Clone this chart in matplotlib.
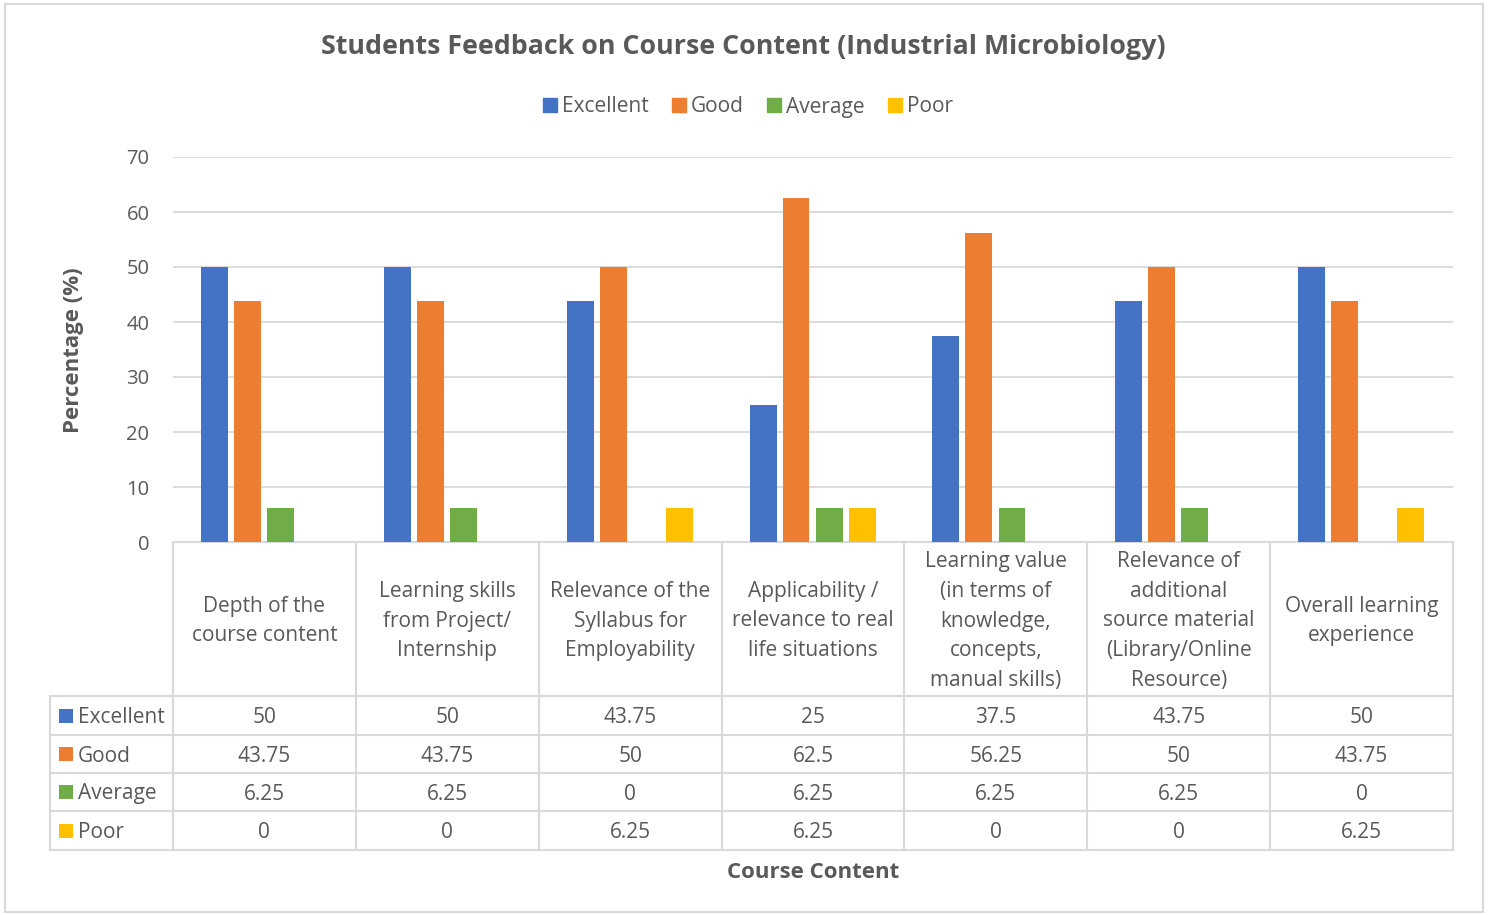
import matplotlib
matplotlib.use("Agg")
import matplotlib.pyplot as plt
from matplotlib.patches import Patch, Rectangle
import numpy as np

# ---------------- data ----------------
categories = [
    "Depth of the\ncourse content",
    "Learning skills\nfrom Project/\nInternship",
    "Relevance of the\nSyllabus for\nEmployability",
    "Applicability /\nrelevance to real\nlife situations",
    "Learning value\n(in terms of\nknowledge,\nconcepts,\nmanual skills)",
    "Relevance of\nadditional\nsource material\n(Library/Online\nResource)",
    "Overall learning\nexperience",
]
series_names = ["Excellent", "Good", "Average", "Poor"]
excellent = [50, 50, 43.75, 25, 37.5, 43.75, 50]
good = [43.75, 43.75, 50, 62.5, 56.25, 50, 43.75]
average = [6.25, 6.25, 0, 6.25, 6.25, 6.25, 0]
poor = [0, 0, 6.25, 6.25, 0, 0, 6.25]
yticks = [0, 10, 20, 30, 40, 50, 60, 70]
title = "Students Feedback on Course Content (Industrial Microbiology)"
ylabel = "Percentage (%)"
xlabel = "Course Content"

series = [excellent, good, average, poor]
colors = ["#4472C4", "#ED7D31", "#70AD47", "#FFC000"]
TXT = "#595959"
LINE = "#d9d9d9"
FONT = ["Open Sans", "DejaVu Sans"]
plt.rcParams["font.family"] = FONT

W, H = 1491, 915
fig = plt.figure(figsize=(W / 100, H / 100), dpi=100)

# plot area
L, R, T, B = 173, 1453, 157, 542
ax = fig.add_axes([L / W, 1 - B / H, (R - L) / W, (B - T) / H])
ax.set_xlim(0, len(categories))
ax.set_ylim(0, 70)
x = np.arange(len(categories))
offsets = [0.227, 0.407, 0.588, 0.769]
for vals, off, c, name in zip(series, offsets, colors, series_names):
    ax.bar(x + off, vals, width=0.147, color=c, label=name, zorder=3)
ax.set_yticks(yticks)
ax.set_yticklabels([str(t) for t in yticks], fontsize=14.5, color=TXT)
ax.tick_params(axis="y", length=0, pad=17)
ax.set_xticks([])
ax.yaxis.grid(True, color=LINE, lw=1.3, zorder=0)
for s in ax.spines.values():
    s.set_visible(False)
ax.patch.set_alpha(0)

# overlay in pixel coordinates for table, labels, border
ov = fig.add_axes([0, 0, 1, 1], zorder=-1)
ov.set_xlim(0, W)
ov.set_ylim(H, 0)
ov.axis("off")

ov.add_patch(Rectangle((5, 4), 1478, 908, fill=False, ec=LINE, lw=1.5))

ncat = len(categories)
cw = (R - L) / ncat
xs = [L + k * cw for k in range(ncat + 1)]
rows = [696, 735, 773, 811, 850]
TL = 50
lw = 1.5
for xv in xs:
    ov.plot([xv, xv], [B, rows[-1]], color=LINE, lw=lw)
ov.plot([TL, TL], [rows[0], rows[-1]], color=LINE, lw=lw)
ov.plot([L, R], [B, B], color=LINE, lw=lw)
for yv in rows:
    ov.plot([TL, R], [yv, yv], color=LINE, lw=lw)

# header category labels
for k, cat in enumerate(categories):
    ov.text(L + (k + 0.5) * cw, 621, cat, ha="center", va="center",
            fontsize=15, color=TXT, linespacing=1.54)

# data rows
for r, (name, vals, c) in enumerate(zip(series_names, series, colors)):
    yc = (rows[r] + rows[r + 1]) / 2
    ov.add_patch(Rectangle((59, yc - 7), 14, 14, color=c, lw=0))
    ov.text(78, yc + 2, name, ha="left", va="center", fontsize=15, color=TXT)
    for k, v in enumerate(vals):
        ov.text(L + (k + 0.5) * cw, yc + 2, f"{v:g}", ha="center", va="center",
                fontsize=15, color=TXT)

ov.text(743, 47, title, ha="center", va="center", fontsize=19.3,
        fontweight="bold", color=TXT)
ov.text(73, 350, ylabel, ha="center", va="center", rotation=90,
        fontsize=16, fontweight="bold", color=TXT)
ov.text(813, 873, xlabel, ha="center", va="center", fontsize=16,
        fontweight="bold", color=TXT)

handles = [Patch(color=c, label=n) for c, n in zip(colors, series_names)]
fig.legend(handles=handles, loc="center", bbox_to_anchor=(748 / W, 1 - 107 / H),
           ncol=4, frameon=False, fontsize=15, handlelength=0.67,
           handleheight=0.67, handletextpad=0.25, columnspacing=1.1,
           labelcolor=TXT)

fig.savefig("out.png", dpi=100, facecolor="white")
